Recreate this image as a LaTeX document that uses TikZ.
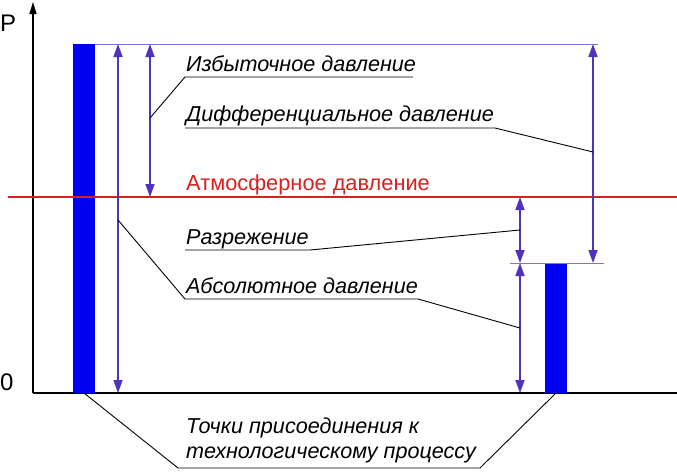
\documentclass[tikz,border=0pt]{standalone}
\usepackage{fontspec}
\setmainfont{Liberation Sans}
\usepackage{xcolor}
\usetikzlibrary{arrows.meta}
\definecolor{barblue}{RGB}{0,0,240}
\definecolor{arrowviolet}{RGB}{80,50,190}
\definecolor{atmred}{RGB}{220,30,30}
\tikzset{
  bar/.style={fill=barblue,draw=none},
  dimarrow/.style={arrowviolet,line width=1.6pt,{Triangle[length=13pt,width=9pt]}-{Triangle[length=13pt,width=9pt]}},
  leader/.style={black,line width=0.9pt},
  lbl/.style={anchor=base west,inner sep=0pt,font=\fontsize{21.6}{24}\selectfont\itshape}
}
\begin{document}
\begin{tikzpicture}[x=1pt,y=-1pt]
\useasboundingbox (0,0) rectangle (677,471);
% axes
\draw[line width=1.2pt,-{Triangle[length=12pt,width=7pt]}] (33,393) -- (33,2);
\draw[line width=1.2pt] (33,393) -- (677,393);
\node[anchor=base west,inner sep=0pt,font=\fontsize{24}{26}\selectfont] (p) at (0,31) {P};
\node[anchor=base west,inner sep=0pt,font=\fontsize{24}{26}\selectfont] (zero) at (0,390) {0};
% bars
\fill[bar] (73,44) rectangle (95,393);
\fill[bar] (545,263) rectangle (567,393);
\coordinate (bara) at (84,393);
\coordinate (barb) at (556,393);
% levels
\draw[arrowviolet!70,line width=0.9pt] (95,44) -- (598,44);
\draw[arrowviolet!70,line width=0.9pt] (510,263) -- (604,263);
\draw[atmred,line width=1.6pt] (8,197) -- (677,197);
% arrows
\coordinate (abstop) at (118,44);  \coordinate (absbot) at (118,393);
\coordinate (exstop) at (150,44);  \coordinate (exsbot) at (150,197);
\coordinate (vactop) at (520,197); \coordinate (vacbot) at (520,263);
\coordinate (abstop2) at (520,263);\coordinate (absbot2) at (520,393);
\coordinate (diftop) at (593,44);  \coordinate (difbot) at (593,263);
\draw[dimarrow] (abstop) -- (absbot);
\draw[dimarrow] (exstop) -- (exsbot);
\draw[dimarrow] (vactop) -- (vacbot);
\draw[dimarrow] (abstop2) -- (absbot2);
\draw[dimarrow] (diftop) -- (difbot);
% labels
\node[lbl] (exs) at (186,71) {Избыточное давление};
\node[lbl] (dif) at (186,121) {Дифференциальное давление};
\node[lbl,text=atmred,font=\fontsize{21.8}{24}\selectfont] (atm) at (186,190) {Атмосферное давление};
\node[lbl] (vac) at (186,244) {Разрежение};
\node[lbl] (abs) at (186,293) {Абсолютное давление};
\node[lbl] (tp1) at (186,433) {Точки присоединения к};
\node[lbl] (tp2) at (186,458) {технологическому процессу};
% leaders
\draw[leader] (150,118) -- (185,77) -- (413,77);
\draw[leader] (185,128) -- (495,128) -- (593,152);
\draw[leader] (185,250) -- (310,250) -- (520,230);
\draw[leader] (118,220) -- (185,299) -- (418,299) -- (520,328);
\draw[leader] (bara) -- (178,468) -- (480,468) -- (barb);
\end{tikzpicture}
\end{document}
